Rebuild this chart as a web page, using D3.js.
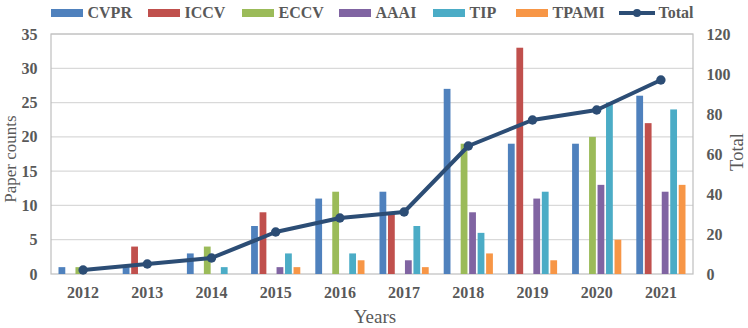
<!DOCTYPE html>
<html><head><meta charset="utf-8">
<script src="https://cdn.jsdelivr.net/npm/d3@7"></script>
<style>body{margin:0;background:#fff} svg text{font-family:"Liberation Serif"}</style>
</head><body><svg id="c" width="748" height="328"></svg>
<script>
const years = ["2012","2013","2014","2015","2016","2017","2018","2019","2020","2021"];
const seriesNames = ["CVPR","ICCV","ECCV","AAAI","TIP","TPAMI"];
const CVPR  = [1,1,3,7,11,12,27,19,19,26];
const ICCV  = [0,4,0,9,0,9,0,33,0,22];
const ECCV  = [1,0,4,0,12,0,19,0,20,0];
const AAAI  = [0,0,0,1,0,2,9,11,13,12];
const TIP   = [0,0,1,3,3,7,6,12,25,24];
const TPAMI = [0,0,0,1,2,1,3,2,5,13];
const Total = [2,5,8,21,28,31,64,77,82,97];
const leftTicks = [0,5,10,15,20,25,30,35];
const rightTicks = [0,20,40,60,80,100,120];
const seriesValues = [CVPR,ICCV,ECCV,AAAI,TIP,TPAMI];
const colors = ["#4F81BD","#C0504D","#9BBB59","#8064A2","#4BACC6","#F79646"];
const lineColor = "#2C4D75";

const svg = d3.select("#c");
const L=51, R=693, T=34, B=274;
const x = d3.scaleBand().domain(years).range([L,R]).padding(0);
const bw = x.bandwidth();
const xs = d3.scaleBand().domain(seriesNames).range([7.5, bw-7.5]).paddingInner(0.2);
const yL = d3.scaleLinear().domain([0,35]).range([B,T]);
const yR = d3.scaleLinear().domain([0,120]).range([B,T]);
const font = "Liberation Serif";
const gray = "#595959";

svg.append("g").selectAll("line").data(leftTicks.slice(1)).join("line")
  .attr("x1",L).attr("x2",R).attr("y1",d=>yL(d)).attr("y2",d=>yL(d))
  .attr("stroke","#D9D9D9").attr("stroke-width",1.2);
svg.append("rect").attr("x",L).attr("y",T).attr("width",R-L).attr("height",B-T)
  .attr("fill","none").attr("stroke","#BFBFBF").attr("stroke-width",1.2);

seriesNames.forEach((s,si)=>{
  svg.append("g").selectAll("rect").data(seriesValues[si].map((v,i)=>({y:years[i],v})))
    .join("rect")
    .attr("x",d=>x(d.y)+xs(s)).attr("width",xs.bandwidth())
    .attr("y",d=>yL(d.v)).attr("height",d=>B-yL(d.v))
    .attr("fill",colors[si]);
});

const pts = Total.map((v,i)=>({y:years[i],v}));
svg.append("path").datum(pts)
  .attr("d",d3.line().x(d=>x(d.y)+bw/2).y(d=>yR(d.v)))
  .attr("fill","none").attr("stroke",lineColor).attr("stroke-width",4).attr("stroke-linejoin","round");
svg.append("g").selectAll("circle").data(pts).join("circle")
  .attr("cx",d=>x(d.y)+bw/2).attr("cy",d=>yR(d.v)).attr("r",4.7).attr("fill",lineColor);

const axL = d3.axisLeft(yL).tickValues(leftTicks).tickSize(0).tickPadding(13.5);
const gL = svg.append("g").attr("transform",`translate(${L},0)`).call(axL);
const axR = d3.axisRight(yR).tickValues(rightTicks).tickSize(0).tickPadding(13.5);
const gR = svg.append("g").attr("transform",`translate(${R},0)`).call(axR);
const axB = d3.axisBottom(x).tickSize(0).tickPadding(12.6);
const gB = svg.append("g").attr("transform",`translate(0,${B})`).call(axB);
[gL,gR,gB].forEach(g=>{
  g.attr("font-family",font);
  g.select(".domain").remove();
  g.selectAll("text").attr("font-family",font).attr("font-size",16).attr("font-weight","bold").attr("fill",gray);
});

svg.append("text").attr("x",375).attr("y",323).attr("text-anchor","middle")
  .attr("font-family",font).attr("font-size",19).attr("fill",gray).text("Years");
svg.append("text").attr("transform",`translate(16,159) rotate(-90)`).attr("text-anchor","middle")
  .attr("font-family",font).attr("font-size",17).attr("fill",gray).text("Paper counts");
svg.append("text").attr("transform",`translate(743,152) rotate(-90)`).attr("text-anchor","middle")
  .attr("font-family",font).attr("font-size",18.5).attr("fill",gray).text("Total");

const legX = [51,148,242,339,433,516];
const lg = svg.append("g");
seriesNames.forEach((s,i)=>{
  lg.append("rect").attr("x",legX[i]).attr("y",9).attr("width",32).attr("height",8).attr("fill",colors[i]);
  lg.append("text").attr("x",legX[i]+36.5).attr("y",18).attr("font-family",font).attr("font-size",16)
    .attr("font-weight","bold").attr("fill",gray).text(s);
});
lg.append("line").attr("x1",619).attr("x2",655).attr("y1",13).attr("y2",13).attr("stroke",lineColor).attr("stroke-width",4);
lg.append("circle").attr("cx",637).attr("cy",13).attr("r",4).attr("fill",lineColor);
lg.append("text").attr("x",658.5).attr("y",18).attr("font-family",font).attr("font-size",16)
  .attr("font-weight","bold").attr("fill",gray).text("Total");
</script></body></html>
